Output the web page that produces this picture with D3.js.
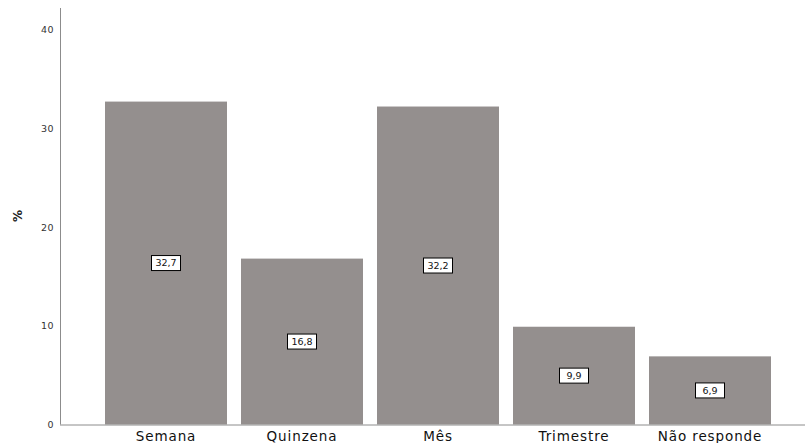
<!DOCTYPE html>
<html><head><meta charset="utf-8">
<script src="https://cdn.jsdelivr.net/npm/d3@7"></script>
<style>body{margin:0;background:#fff}svg{display:block}</style>
</head><body>
<svg id="c" width="805" height="443"></svg>
<script>
const categories = ["Semana", "Quinzena", "Mês", "Trimestre", "Não responde"];
const values = [32.7, 16.8, 32.2, 9.9, 6.9];
const yTicks = [0, 10, 20, 30, 40];
const yLabel = "%";

const svg = d3.select("#c");
const x = d3.scaleBand().domain(categories).range([98, 778])
  .paddingInner(14/136).paddingOuter(7/136);
const y = d3.scaleLinear().domain([0, 40]).range([424.5, 29.5]);
const fmt = v => d3.format(".1f")(v).replace(".", ",");

// bars
svg.append("g").selectAll("rect").data(values).join("rect")
  .attr("x", (d,i) => x(categories[i]))
  .attr("y", d => y(d))
  .attr("width", x.bandwidth())
  .attr("height", d => y(0) - y(d))
  .attr("fill", "#948f8e");

// y axis
const ya = svg.append("g").attr("transform", "translate(60,0)")
  .call(d3.axisLeft(y).tickValues(yTicks).tickSize(0).tickPadding(6).tickFormat(d3.format("d")));
ya.select(".domain").remove();
ya.selectAll("text").attr("font-family", "DejaVu Sans, sans-serif").attr("font-size", 9.5)
  .attr("letter-spacing", 0.5).attr("fill", "#333");
svg.append("line").attr("x1", 60.5).attr("x2", 60.5).attr("y1", 8).attr("y2", y(0)).attr("stroke", "#8c8c8c");

// x axis
const xa = svg.append("g").attr("transform", `translate(0,${y(0)})`)
  .call(d3.axisBottom(x).tickSize(0).tickPadding(6));
xa.select(".domain").remove();
xa.selectAll("text").attr("font-family", "DejaVu Sans, sans-serif").attr("font-size", 13.5)
  .attr("letter-spacing", 0.9).attr("fill", "#111").attr("dy", "0.8em");
svg.append("line").attr("x1", 60).attr("x2", 805).attr("y1", y(0)+0.5).attr("y2", y(0)+0.5).attr("stroke", "#8c8c8c");

// y label
svg.append("text").attr("transform", `translate(22,216) rotate(-90)`)
  .attr("text-anchor", "middle").attr("font-family", "DejaVu Sans, sans-serif")
  .attr("font-size", 12).attr("font-weight", "bold").attr("fill", "#222").text(yLabel);

// value labels
const lg = svg.append("g").selectAll("g").data(values).join("g")
  .attr("transform", (d,i) => `translate(${x(categories[i]) + x.bandwidth()/2},${(y(d)+y(0))/2})`);
lg.append("rect").attr("x", -14.5).attr("y", -7.5).attr("width", 29).attr("height", 15)
  .attr("fill", "#fff").attr("stroke", "#000").attr("stroke-width", 1);
lg.append("text").attr("text-anchor", "middle").attr("dy", "0.35em")
  .attr("font-family", "DejaVu Sans, sans-serif").attr("font-size", 9.5).attr("fill", "#111")
  .text(d => fmt(d));
</script>
</body></html>
